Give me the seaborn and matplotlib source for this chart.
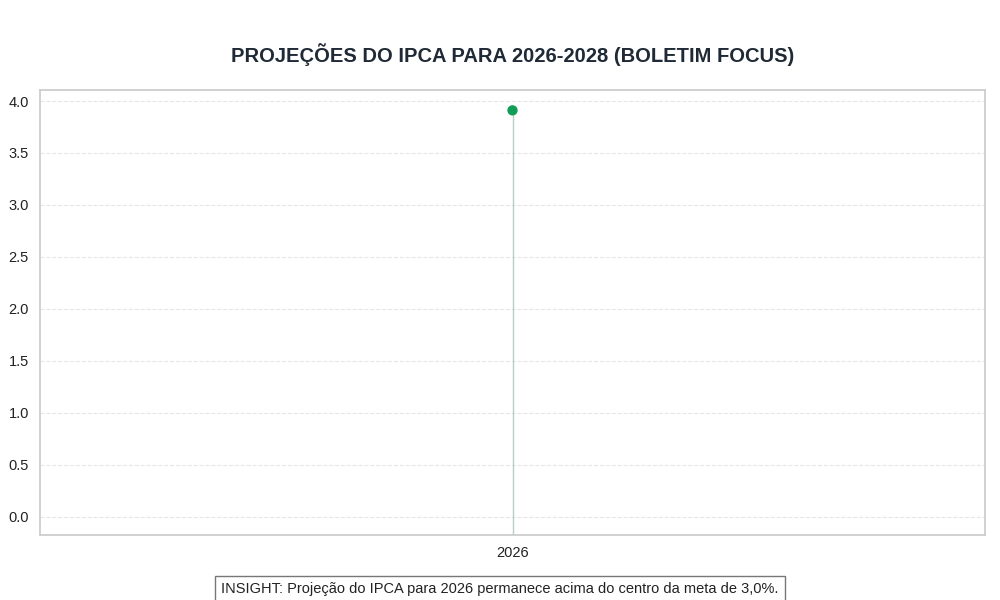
import matplotlib
matplotlib.use("Agg")
import matplotlib.pyplot as plt
import seaborn as sns
import pandas as pd

anos = ["2026"]
ipca = [3.91]
insight = "INSIGHT: Projeção do IPCA para 2026 permanece acima do centro da meta de 3,0%."

sns.set_theme(style="whitegrid")
plt.rcParams["font.family"] = ["Liberation Sans", "DejaVu Sans"]

df = pd.DataFrame({"ano": anos, "ipca": ipca})

fig, ax = plt.subplots(figsize=(10, 6), dpi=100)
fig.subplots_adjust(left=0.04, right=0.985, top=0.85, bottom=0.108)

ymin = -0.18
ax.vlines(range(len(df)), ymin, df["ipca"], color="#b8cfc8", linewidth=1, zorder=2)
sns.scatterplot(data=df, x="ano", y="ipca", color="#0f9d58", s=55, edgecolor="none", ax=ax, zorder=3)

ax.set_ylim(ymin, 4.106)
ax.set_xlim(-0.9, 0.9)
ax.set_yticks([0, 0.5, 1.0, 1.5, 2.0, 2.5, 3.0, 3.5, 4.0])
ax.set_xlabel("")
ax.set_ylabel("")
ax.grid(axis="y", linestyle="--", color="#e6e6e6", linewidth=0.8)
ax.grid(axis="x", visible=False)
for s in ax.spines.values():
    s.set_color("#cccccc")
ax.tick_params(labelsize=10.5, colors="#222222", pad=2)
ax.set_title("PROJEÇÕES DO IPCA PARA 2026-2028 (BOLETIM FOCUS)", fontsize=14.5,
             fontweight="bold", color="#1f2a36", pad=20)

fig.text(0.5, 0.018, insight, ha="center", va="center", fontsize=10.5, color="#222222",
         bbox=dict(boxstyle="square,pad=0.4", facecolor="white", edgecolor="#777777"))

fig.savefig("out.png", dpi=100)
